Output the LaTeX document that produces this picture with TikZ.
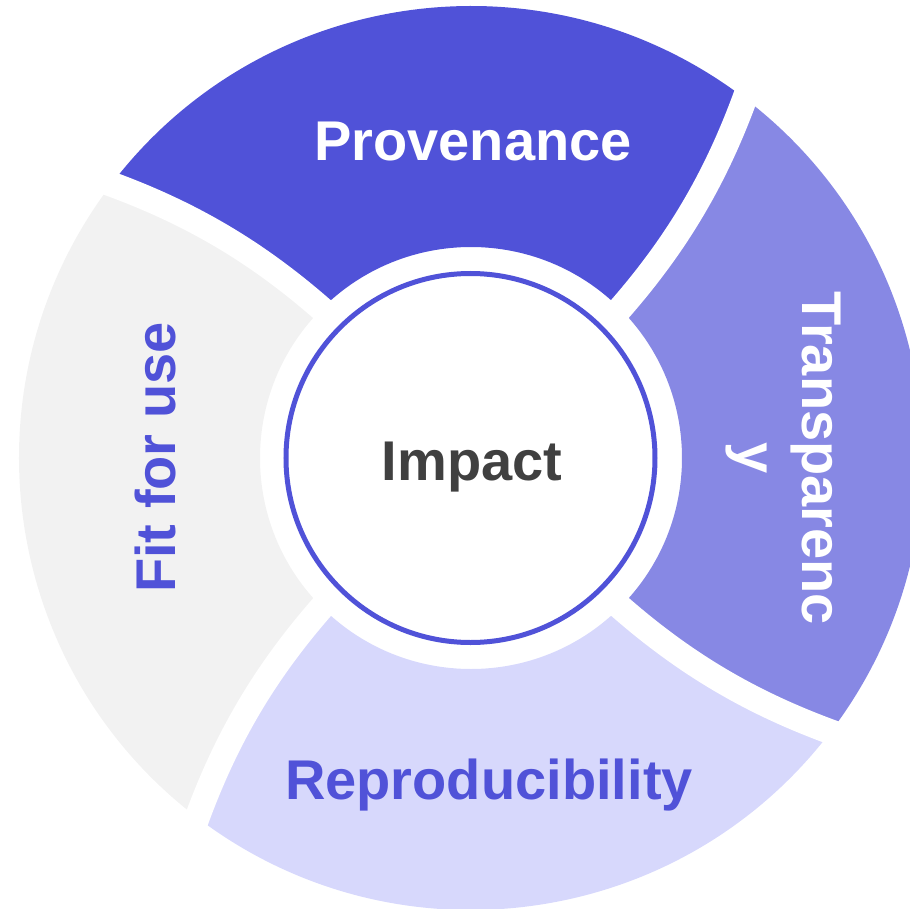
\documentclass[tikz,border=0pt]{standalone}
\usepackage{fontspec}
\usetikzlibrary{calc}
\setmainfont{Liberation Sans}
\definecolor{provc}{HTML}{5052D8}
\definecolor{transc}{HTML}{8788E4}
\definecolor{reproc}{HTML}{D7D8FC}
\definecolor{fitc}{HTML}{F2F2F2}
\definecolor{impc}{HTML}{404040}
\begin{document}
\begin{tikzpicture}[x=1pt,y=1pt,
  gapline/.style={draw=white, line width=25pt, shorten <=-14pt, shorten >=-14pt},
  lbl/.style={font=\fontsize{56}{65}\selectfont\bfseries, inner sep=0pt},
  hubstyle/.style={circle, draw=provc, line width=5pt, fill=white, minimum size=369pt, inner sep=0pt}]
\useasboundingbox (-471,-450) rectangle (439,458);
\clip (-471,-450) rectangle (439,458);
% segments
\foreach \a/\col in {45/provc, -45/transc, -135/reproc, 135/fitc}{
  \fill[\col] (\a:211)
    .. controls ($(\a:211)!0.6667!({\a+1.1}:335.5)$) and ($({\a+7.7}:452)!0.6667!({\a+1.1}:335.5)$) .. ({\a+7.7}:452)
    arc[start angle={\a+7.7}, end angle={\a+97.7}, radius=452]
    .. controls ($({\a+97.7}:452)!0.6667!({\a+91.1}:335.5)$) and ($({\a+90}:211)!0.6667!({\a+91.1}:335.5)$) .. ({\a+90}:211)
    arc[start angle={\a+90}, end angle=\a, radius=211] -- cycle;
}
% gaps
\foreach \a in {45,-45,-135,135}{
  \draw[gapline] (\a:211)
    .. controls ($(\a:211)!0.6667!({\a+1.1}:335.5)$) and ($({\a+7.7}:452)!0.6667!({\a+1.1}:335.5)$) .. ({\a+7.7}:452);
}
% hub
\node[hubstyle] (hub) at (-0.5,0) {};
\node[lbl, text=impc, anchor=base] (impact) at (1,-22) {Impact};
% labels
\node[lbl, text=white, anchor=base] (prov) at (2,297) {Provenance};
\node[lbl, text=provc, anchor=base] (repro) at (18,-341) {Reproducibility};
\node[lbl, text=provc, anchor=base, rotate=90] (fit) at (-295.5,0.5) {Fit for use};
\node[lbl, text=white, rotate=-90, align=center] (transp) at (312.6,-0.5) {Transparenc\\y};
\end{tikzpicture}
\end{document}
